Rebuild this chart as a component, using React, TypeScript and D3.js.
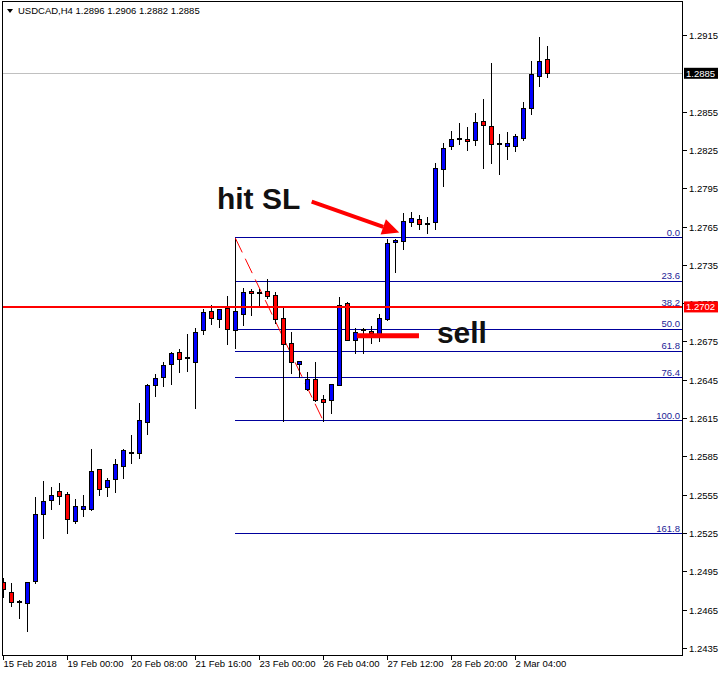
import React from "react";
import * as d3 from "d3";

// USDCAD H4 candles (one entry per 4h bar)
const opens = [
  1.24863, 1.24789, 1.24706, 1.24698, 1.24875, 1.254, 1.25505, 1.25576, 1.25552, 1.25345,
  1.25439, 1.25439, 1.25748, 1.25607, 1.25674, 1.25772, 1.25878, 1.25873, 1.26116, 1.26411,
  1.26473, 1.26575, 1.26665, 1.2662, 1.26591, 1.26837, 1.26986, 1.26923, 1.27009, 1.26842,
  1.26962, 1.27145, 1.27135, 1.27145, 1.27111, 1.26931, 1.26735, 1.26575, 1.26375, 1.26455,
  1.26296, 1.26289, 1.26406, 1.27048, 1.26761, 1.26843, 1.26831, 1.268, 1.26923, 1.27526,
  1.27534, 1.27683, 1.27706, 1.27673, 1.27683, 1.28098, 1.28278, 1.28339, 1.28333, 1.28325,
  1.28476, 1.28435, 1.28297, 1.28283, 1.28283, 1.28341, 1.28581, 1.28831, 1.2896,
];
const highs = [
  1.24897, 1.24857, 1.24724, 1.24863, 1.25531, 1.25656, 1.25609, 1.25641, 1.25568, 1.25515,
  1.25547, 1.25907, 1.25748, 1.2568, 1.25829, 1.25909, 1.26017, 1.26265, 1.26416, 1.26495,
  1.26589, 1.26669, 1.2669, 1.26808, 1.26855, 1.27006, 1.27035, 1.27004, 1.27106, 1.26988,
  1.27168, 1.27163, 1.27158, 1.27236, 1.27137, 1.27027, 1.26824, 1.26594, 1.2651, 1.26589,
  1.2633, 1.26414, 1.27095, 1.27056, 1.26853, 1.26853, 1.26871, 1.26965, 1.2755, 1.2755,
  1.27758, 1.27761, 1.2774, 1.27722, 1.28145, 1.28302, 1.28398, 1.28461, 1.28429, 1.28539,
  1.28649, 1.28931, 1.28375, 1.2839, 1.28372, 1.28625, 1.28944, 1.29137, 1.2906,
];
const lows = [
  1.24748, 1.2468, 1.24586, 1.24484, 1.2486, 1.25212, 1.25437, 1.25479, 1.25249, 1.2533,
  1.25382, 1.25432, 1.25549, 1.25541, 1.2557, 1.25682, 1.258, 1.25839, 1.26025, 1.26322,
  1.26403, 1.26419, 1.26513, 1.2652, 1.26231, 1.2681, 1.26889, 1.26865, 1.26732, 1.26701,
  1.26881, 1.26957, 1.27035, 1.27092, 1.26896, 1.26126, 1.26505, 1.26473, 1.26369, 1.26283,
  1.26126, 1.26191, 1.26406, 1.26759, 1.26657, 1.26661, 1.2674, 1.26755, 1.26918, 1.27291,
  1.27471, 1.27654, 1.27628, 1.27597, 1.27628, 1.2797, 1.28259, 1.28299, 1.28252, 1.28291,
  1.28111, 1.2815, 1.28064, 1.28181, 1.28244, 1.28325, 1.28534, 1.28753, 1.2882,
];
const closes = [
  1.24808, 1.24706, 1.24714, 1.24863, 1.25396, 1.255, 1.25547, 1.25541, 1.25356, 1.25458,
  1.25458, 1.25732, 1.25591, 1.25662, 1.25787, 1.25897, 1.25884, 1.26132, 1.26408, 1.26463,
  1.26565, 1.26659, 1.26614, 1.26624, 1.26821, 1.26978, 1.26931, 1.27004, 1.26849, 1.26988,
  1.27137, 1.27127, 1.27139, 1.27103, 1.26923, 1.26727, 1.26586, 1.26594, 1.26455, 1.26289,
  1.26273, 1.26414, 1.27033, 1.26761, 1.26821, 1.26847, 1.26813, 1.26931, 1.27518, 1.27542,
  1.27691, 1.27714, 1.27672, 1.27677, 1.28106, 1.28263, 1.28333, 1.28343, 1.28317, 1.28466,
  1.28443, 1.28294, 1.28301, 1.28302, 1.28357, 1.28576, 1.28842, 1.28944, 1.2885,
];

// price labels on the right scale (1.2885 sits under the bid box and is not shown)
const priceTicks = [
  "1.2915", "1.2855", "1.2825", "1.2795", "1.2765", "1.2735", "1.2705", "1.2675",
  "1.2645", "1.2615", "1.2585", "1.2555", "1.2525", "1.2495", "1.2465", "1.2435",
];
const timeTickBars = [0, 8, 16, 24, 32, 40, 48, 56, 64];
const timeTickLabels = [
  "15 Feb 2018", "19 Feb 00:00", "20 Feb 08:00", "21 Feb 16:00", "23 Feb 00:00",
  "26 Feb 04:00", "27 Feb 12:00", "28 Feb 20:00", "2 Mar 04:00",
];

// fibonacci retracement drawn from the swing high to the swing low
const fibLevels = [0, 23.6, 38.2, 50, 61.8, 76.4, 100, 161.8];
const fibHigh = 1.2756;
const fibLow = 1.26127;
const fibStartBar = 29;
const fibEndBar = 40;

const bidPrice = 1.2885;
const sellPrice = 1.2702;
const title = "USDCAD,H4  1.2896 1.2906 1.2882 1.2885";

// annotations in (bar, price)
const slArrow = { from: [38.55, 1.27844], to: [49.5, 1.27603] };
const slText = { bar: 26.7, price: 1.27785, text: "hit SL" };
const sellMark = { from: 44.2, to: 51.96, price: 1.26795 };
const sellText = { bar: 54.2, price: 1.2674, text: "sell" };

const W = 722;
const H = 676;
const plot = { left: 2, right: 682, top: 1, bottom: 655 };
const smallFont = "'Liberation Sans', Arial, sans-serif";

export default function App() {
  const n = closes.length;
  const x = d3.scaleLinear().domain([0, n - 1]).range([3.3, 3.3 + 8 * (n - 1)]);
  const y = d3.scaleLinear().domain([1.2435, 1.2915]).range([647.8, 35]);

  const px = (v: number) => Math.round(v - 0.5) + 0.5;

  const fibY = (lvl: number) => y(fibHigh - (lvl / 100) * (fibHigh - fibLow));

  // arrow head for the "hit SL" arrow
  const ax0 = x(slArrow.from[0]);
  const ay0 = y(slArrow.from[1]);
  const ax1 = x(slArrow.to[0]);
  const ay1 = y(slArrow.to[1]);
  const len = Math.hypot(ax1 - ax0, ay1 - ay0);
  const ux = (ax1 - ax0) / len;
  const uy = (ay1 - ay0) / len;
  const headLen = 17;
  const headW = 8;
  const bx = ax1 - ux * headLen;
  const by = ay1 - uy * headLen;
  const head = [
    [ax1, ay1],
    [bx - uy * headW, by + ux * headW],
    [bx + uy * headW, by - ux * headW],
  ];

  return (
    <div style={{ position: "absolute", left: 0, top: 0 }}>
      <svg width={W} height={H} style={{ display: "block", background: "#fff" }}>
        <defs>
          <clipPath id="plotClip">
            <rect x={plot.left} y={plot.top} width={plot.right - plot.left} height={plot.bottom - plot.top} />
          </clipPath>
        </defs>

        <g clipPath="url(#plotClip)">
          {/* bid line */}
          <line x1={plot.left} x2={plot.right} y1={px(y(bidPrice))} y2={px(y(bidPrice))} stroke="#c0c0c0" strokeWidth={1} />

          {/* fibonacci levels */}
          <g shapeRendering="crispEdges">
            {fibLevels.map((lvl) => (
              <line key={lvl} x1={x(fibStartBar)} x2={plot.right} y1={px(fibY(lvl))} y2={px(fibY(lvl))} stroke="#00009c" strokeWidth={1} />
            ))}
            <line x1={px(x(fibStartBar))} x2={px(x(fibStartBar))} y1={fibY(0)} y2={y(highs[fibStartBar])} stroke="#000" />
          </g>
          <line
            x1={x(fibStartBar)}
            y1={fibY(0)}
            x2={x(fibEndBar)}
            y2={fibY(100)}
            stroke="#ff0000"
            strokeWidth={1}
            strokeDasharray="16,7"
          />
          {fibLevels.map((lvl) => (
            <text
              key={lvl}
              x={plot.right - 2}
              y={fibY(lvl) - 2}
              textAnchor="end"
              fontFamily={smallFont}
              fontSize={9.5}
              fill="#1c1c96"
            >
              {lvl.toFixed(1)}
            </text>
          ))}

          {/* candles */}
          <g shapeRendering="crispEdges">
            {closes.map((c, i) => {
              const o = opens[i];
              const cx = Math.round(x(i) - 0.5);
              const top = Math.round(y(Math.max(o, c)));
              const bot = Math.round(y(Math.min(o, c)));
              const bodyH = Math.max(bot - top, 1);
              return (
                <g key={i}>
                  <line x1={cx + 0.5} x2={cx + 0.5} y1={Math.round(y(highs[i]))} y2={Math.round(y(lows[i])) + 1} stroke="#000" />
                  <rect
                    x={cx - 1.5}
                    y={top + 0.5}
                    width={4}
                    height={bodyH}
                    fill={c >= o ? "#0000ff" : "#ff0000"}
                    stroke="#000"
                    strokeWidth={1}
                  />
                </g>
              );
            })}
          </g>

          {/* sell level */}
          <line x1={plot.left} x2={plot.right} y1={y(sellPrice)} y2={y(sellPrice)} stroke="#ff0000" strokeWidth={2} />

          {/* annotations */}
          <line x1={ax0} y1={ay0} x2={bx} y2={by} stroke="#ff0000" strokeWidth={4} />
          <polygon points={head.map((p) => p.join(",")).join(" ")} fill="#ff0000" />
          <text
            x={x(slText.bar)}
            y={y(slText.price)}
            fontFamily="'Liberation Sans', Arial, sans-serif"
            fontWeight="bold"
            fontSize={30}
            fill="#111"
          >
            {slText.text}
          </text>
          <line
            x1={x(sellMark.from)}
            x2={x(sellMark.to)}
            y1={y(sellMark.price)}
            y2={y(sellMark.price)}
            stroke="#ff0000"
            strokeWidth={5}
          />
          <text
            x={x(sellText.bar)}
            y={y(sellText.price)}
            fontFamily="'Liberation Sans', Arial, sans-serif"
            fontWeight="bold"
            fontSize={30}
            fill="#111"
          >
            {sellText.text}
          </text>
        </g>

        {/* frame */}
        <rect
          x={plot.left + 0.5}
          y={plot.top + 0.5}
          width={plot.right - plot.left}
          height={plot.bottom - plot.top}
          fill="none"
          stroke="#000"
          shapeRendering="crispEdges"
        />

        {/* title */}
        <polygon points="7,9 13,9 10,13" fill="#000" />
        <text x={18} y={14} fontFamily={smallFont} fontSize={9.5} fill="#000">
          {title}
        </text>

        {/* price axis */}
        <g fontFamily={smallFont} fontSize={9.5}>
          {priceTicks.map((t) => {
            const ty = Math.round(y(+t)) + 0.5;
            return (
              <g key={t}>
                <line x1={plot.right + 1} x2={plot.right + 5} y1={ty} y2={ty} stroke="#000" shapeRendering="crispEdges" />
                <text x={plot.right + 7} y={ty} dy="0.35em" fill="#000">
                  {t}
                </text>
              </g>
            );
          })}
          <rect x={plot.right + 2} y={y(bidPrice) - 5.5} width={34} height={11} fill="#000" />
          <text x={plot.right + 4} y={y(bidPrice)} dy="0.35em" fill="#fff">
            {bidPrice.toFixed(4)}
          </text>
          <rect x={plot.right + 2} y={y(sellPrice) - 5.5} width={34} height={11} fill="#ff0000" />
          <text x={plot.right + 4} y={y(sellPrice)} dy="0.35em" fill="#fff">
            {sellPrice.toFixed(4)}
          </text>
        </g>

        {/* time axis */}
        <g fontFamily={smallFont} fontSize={9.5}>
          {timeTickBars.map((b, i) => {
            const tx = Math.round(x(b) - 0.5) + 0.5;
            return (
              <g key={b}>
                <line x1={tx} x2={tx} y1={plot.bottom} y2={plot.bottom + 5} stroke="#000" shapeRendering="crispEdges" />
                <text x={tx} y={667} fill="#000">
                  {timeTickLabels[i]}
                </text>
              </g>
            );
          })}
        </g>
      </svg>
    </div>
  );
}
